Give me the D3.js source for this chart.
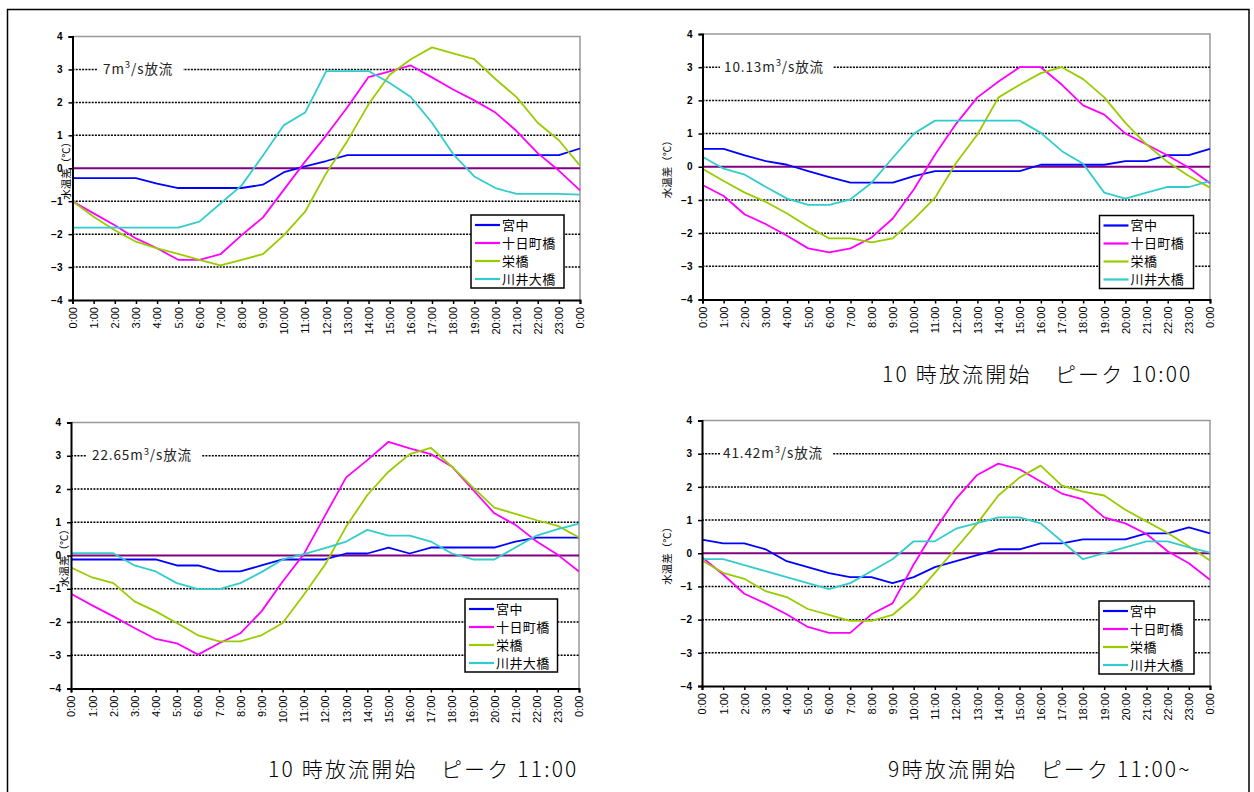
<!DOCTYPE html>
<html><head><meta charset="utf-8">
<script src="https://cdn.jsdelivr.net/npm/d3@7"></script>
<style>body{margin:0;background:#fff}svg{display:block}</style>
</head><body><svg id="c" width="1254" height="792"></svg>
<script>
// ---------- data ----------
const hours = ["0:00","1:00","2:00","3:00","4:00","5:00","6:00","7:00","8:00","9:00","10:00","11:00","12:00","13:00","14:00","15:00","16:00","17:00","18:00","19:00","20:00","21:00","22:00","23:00","0:00"];
const seriesNames = ["宮中","十日町橋","栄橋","川井大橋"];
const yTicks = [-4,-3,-2,-1,0,1,2,3,4];
const flowRates = ["7","10.13","22.65","41.42"];
const captions = ["", "10 時放流開始　ピーク 10:00", "10 時放流開始　ピーク 11:00", "9時放流開始　ピーク 11:00~"];
const yLabel = "水温差（℃）";

const p1Miyanaka = [-0.3,-0.3,-0.3,-0.3,-0.47,-0.6,-0.6,-0.6,-0.6,-0.5,-0.12,0.06,0.22,0.4,0.4,0.4,0.4,0.4,0.4,0.4,0.4,0.4,0.4,0.4,0.6];
const p1Tokamachi = [-1.0,-1.37,-1.73,-2.13,-2.43,-2.78,-2.78,-2.61,-2.03,-1.5,-0.65,0.2,1.0,1.85,2.77,2.94,3.12,2.76,2.39,2.06,1.69,1.13,0.46,-0.07,-0.67];
const p1Sakae = [-1.0,-1.47,-1.88,-2.23,-2.43,-2.6,-2.78,-2.95,-2.78,-2.61,-2.03,-1.32,-0.15,0.83,1.94,2.84,3.31,3.67,3.49,3.31,2.71,2.16,1.38,0.85,0.08];
const p1Kawai = [-1.8,-1.8,-1.8,-1.8,-1.8,-1.8,-1.62,-1.07,-0.52,0.38,1.31,1.69,2.95,2.95,2.95,2.59,2.16,1.38,0.43,-0.25,-0.6,-0.78,-0.78,-0.78,-0.8];

const p2Miyanaka = [0.54,0.54,0.34,0.17,0.06,-0.13,-0.31,-0.48,-0.48,-0.48,-0.28,-0.13,-0.13,-0.13,-0.13,-0.13,0.06,0.06,0.06,0.06,0.17,0.17,0.35,0.35,0.54];
const p2Tokamachi = [-0.55,-0.88,-1.44,-1.73,-2.08,-2.46,-2.58,-2.46,-2.13,-1.56,-0.68,0.37,1.3,2.09,2.57,3.0,3.0,2.47,1.85,1.57,1.0,0.67,0.34,-0.03,-0.5];
const p2Sakae = [-0.06,-0.43,-0.78,-1.06,-1.41,-1.81,-2.16,-2.16,-2.28,-2.16,-1.58,-0.93,0.12,0.97,2.09,2.47,2.82,3.0,2.64,2.09,1.32,0.67,0.14,-0.28,-0.63];
const p2Kawai = [0.3,-0.06,-0.24,-0.61,-0.96,-1.15,-1.15,-0.98,-0.48,0.27,1.0,1.39,1.39,1.39,1.39,1.39,1.02,0.47,0.09,-0.78,-0.96,-0.78,-0.61,-0.61,-0.43];

const p3Miyanaka = [-0.12,-0.12,-0.12,-0.12,-0.12,-0.3,-0.3,-0.48,-0.48,-0.3,-0.12,-0.12,-0.12,0.06,0.06,0.24,0.06,0.24,0.24,0.24,0.24,0.42,0.54,0.54,0.54];
const p3Tokamachi = [-1.15,-1.5,-1.83,-2.18,-2.51,-2.64,-2.98,-2.64,-2.34,-1.68,-0.78,0.04,1.2,2.35,2.87,3.42,3.22,3.05,2.67,1.97,1.27,0.92,0.42,0.02,-0.48];
const p3Sakae = [-0.36,-0.66,-0.83,-1.38,-1.68,-2.03,-2.4,-2.58,-2.58,-2.4,-2.03,-1.18,-0.28,0.87,1.82,2.52,3.05,3.24,2.67,2.04,1.44,1.25,1.06,0.89,0.54];
const p3Kawai = [0.07,0.07,0.07,-0.3,-0.48,-0.83,-1.01,-1.01,-0.83,-0.5,-0.12,0.04,0.22,0.42,0.77,0.6,0.6,0.42,0.06,-0.12,-0.12,0.24,0.6,0.79,0.96];

const p4Miyanaka = [0.41,0.3,0.3,0.12,-0.24,-0.42,-0.6,-0.72,-0.72,-0.9,-0.72,-0.42,-0.24,-0.06,0.12,0.12,0.3,0.3,0.42,0.42,0.42,0.6,0.6,0.78,0.6];
const p4Tokamachi = [-0.12,-0.64,-1.22,-1.51,-1.84,-2.22,-2.4,-2.4,-1.84,-1.51,-0.34,0.71,1.64,2.36,2.7,2.53,2.16,1.8,1.62,1.08,0.9,0.58,0.06,-0.3,-0.8];
const p4Sakae = [-0.22,-0.59,-0.77,-1.14,-1.32,-1.68,-1.86,-2.04,-2.04,-1.86,-1.32,-0.59,0.15,0.9,1.74,2.28,2.64,2.04,1.86,1.74,1.31,0.96,0.61,0.21,-0.22];
const p4Kawai = [-0.18,-0.18,-0.36,-0.54,-0.72,-0.9,-1.08,-0.9,-0.54,-0.18,0.36,0.36,0.74,0.91,1.08,1.08,0.9,0.36,-0.18,0.0,0.18,0.36,0.36,0.18,0.02];

const panelSeries = [
  [p1Miyanaka,p1Tokamachi,p1Sakae,p1Kawai],
  [p2Miyanaka,p2Tokamachi,p2Sakae,p2Kawai],
  [p3Miyanaka,p3Tokamachi,p3Sakae,p3Kawai],
  [p4Miyanaka,p4Tokamachi,p4Sakae,p4Kawai]
];

// ---------- layout / style ----------
const colors = ["#0000FF","#FF00FF","#99CC00","#33CCCC"];
const layout = [
  {x0:72.5, x1:580, top:36.5, bot:300, leg:[471,215,93,73], ann:[98,183,103], cap:[882,382], ylx:66},
  {x0:702.5, x1:1210, top:34, bot:299.5, leg:[1099.5,215.5,94,73], ann:[720,833,724], cap:[882,382], ylx:667},
  {x0:71, x1:579, top:422.5, bot:688.5, leg:[465,599,92.5,73], ann:[87,202,92], cap:[268,777], ylx:64.5},
  {x0:702, x1:1210, top:420.5, bot:686, leg:[1099,601,95,73], ann:[720,833,723], cap:[888,777], ylx:667}
];
const cjk = "'Noto Sans CJK JP','Noto Sans',sans-serif";
const latin = "'Liberation Sans',Arial,sans-serif";

const svg = d3.select("#c");
svg.append("rect").attr("x",7.5).attr("y",9.5).attr("width",1241.5).attr("height",820)
  .attr("fill","none").attr("stroke","#000").attr("stroke-width",1.5);

layout.forEach((L, pi) => {
  const x = d3.scalePoint().domain(d3.range(hours.length)).range([L.x0, L.x1]);
  const y = d3.scaleLinear().domain([-4,4]).range([L.bot, L.top]);
  const g = svg.append("g");

  // frame top/right (gray)
  g.append("path").attr("d",`M${L.x0},${L.top}H${L.x1}V${L.bot}`)
    .attr("fill","none").attr("stroke","#999").attr("stroke-width",1.5);

  // dotted gridlines
  g.selectAll(".grid").data(yTicks.filter(v => v !== 0 && Math.abs(v) < 4)).join("line")
    .attr("x1",L.x0).attr("x2",L.x1).attr("y1",d=>y(d)).attr("y2",d=>y(d))
    .attr("stroke","#000").attr("stroke-width",1.5).attr("stroke-dasharray","2,1.2");

  // annotation (white gap + text)
  const ay = y(3);
  g.append("rect").attr("x",L.ann[0]).attr("y",ay-3).attr("width",L.ann[1]-L.ann[0]).attr("height",6).attr("fill","#fff");
  const at = g.append("text").attr("x",L.ann[2]).attr("y",ay+4.5)
    .attr("font-family",cjk).attr("font-size",13.5).attr("letter-spacing",0.9).attr("fill","#222");
  at.append("tspan").text(flowRates[pi]+"m");
  at.append("tspan").attr("dy",-5.5).attr("font-size",9.5).text("3");
  at.append("tspan").attr("dy",5.5).text("/s放流");

  // zero line
  g.append("line").attr("x1",L.x0).attr("x2",L.x1).attr("y1",y(0)).attr("y2",y(0))
    .attr("stroke","#800080").attr("stroke-width",2);

  // series lines
  const line = d3.line().x((d,i)=>x(i)).y(d=>y(d));
  panelSeries[pi].forEach((s, si) => {
    g.append("path").datum(s).attr("d",line).attr("fill","none")
      .attr("stroke",colors[si]).attr("stroke-width",1.8).attr("stroke-linejoin","round");
  });

  // axes
  const ya = d3.axisLeft(y).tickValues(yTicks).tickSize(4).tickFormat(d3.format("d"));
  const yg = g.append("g").attr("transform",`translate(${L.x0},0)`).call(ya);
  yg.select(".domain").attr("stroke","#000").attr("stroke-width",2);
  yg.selectAll(".tick line").attr("stroke","#000").attr("stroke-width",1.5);
  yg.selectAll(".tick text").attr("font-family",latin).attr("font-weight","bold").attr("font-size",10).attr("fill","#000").attr("dx",-3);

  const xa = d3.axisBottom(x).tickSize(4).tickFormat(i => hours[i]);
  const xg = g.append("g").attr("transform",`translate(0,${L.bot})`).call(xa);
  xg.select(".domain").attr("stroke","#000").attr("stroke-width",2);
  xg.selectAll(".tick line").attr("stroke","#000").attr("stroke-width",1.5);
  xg.selectAll(".tick text").attr("font-family",latin).attr("font-size",11).attr("fill","#000")
    .attr("transform","rotate(-90)").attr("text-anchor","end").attr("x",-7).attr("y",0).attr("dy","0.35em");

  // y label
  g.append("text").attr("transform",`translate(${L.ylx},${y(0)}) rotate(-90)`)
    .attr("text-anchor","middle").attr("dy","0.35em").attr("font-family",cjk).attr("font-size",10.5).attr("fill","#000").text(yLabel);

  // legend
  const [lx,ly,lw,lh] = L.leg;
  const lg = g.append("g");
  lg.append("rect").attr("x",lx).attr("y",ly).attr("width",lw).attr("height",lh)
    .attr("fill","#fff").attr("stroke","#000").attr("stroke-width",1.5);
  seriesNames.forEach((n, si) => {
    const ry = ly + 10 + si*18;
    lg.append("line").attr("x1",lx+4).attr("x2",lx+29).attr("y1",ry).attr("y2",ry)
      .attr("stroke",colors[si]).attr("stroke-width",2.2);
    lg.append("text").attr("x",lx+31).attr("y",ry+4.5).attr("font-family",cjk).attr("font-size",13)
      .attr("letter-spacing",0.4).attr("fill","#000").text(n);
  });

  // caption
  if (captions[pi]) {
    svg.append("text").attr("x",L.cap[0]).attr("y",L.cap[1]).attr("font-family",cjk)
      .attr("font-weight",300).attr("font-size",21).attr("letter-spacing",2.2).attr("fill","#000").text(captions[pi]);
  }
});
</script></body></html>
